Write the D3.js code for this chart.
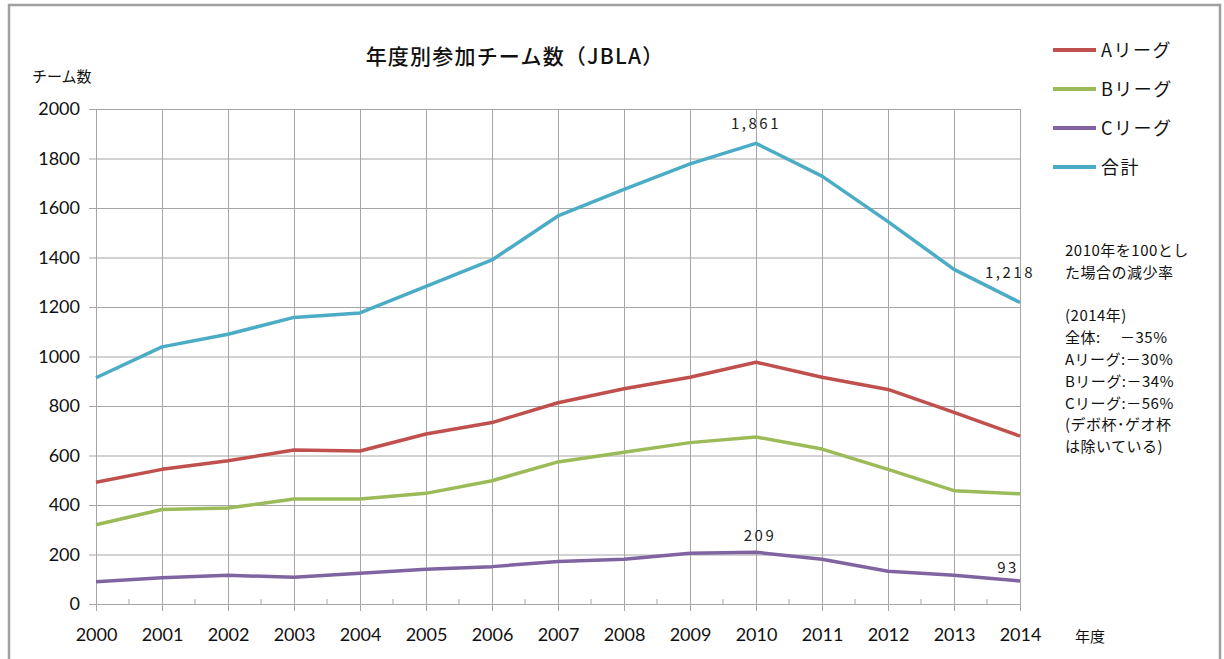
<!DOCTYPE html>
<meta charset="utf-8">
<style>
  body { margin: 0; background: #fff; }
  svg { display: block; }
  .jp { font-family: "Noto Sans CJK JP", sans-serif; fill: #111; }
  .num { font-family: Lato, "Liberation Sans", sans-serif; fill: #111; }
  .grid line { stroke: #a6a6a6; stroke-width: 1; }
</style>
<body>
<svg id="chart" width="1224" height="659"></svg>
<script src="https://d3js.org/d3.v7.min.js"></script>
<script>
const years = d3.range(2000, 2015);
const leagueA = [492, 544, 579, 622, 618, 687, 733, 813, 870, 916, 977, 916, 867, 774, 678];
const leagueB = [320, 382, 388, 424, 424, 447, 498, 574, 613, 652, 675, 626, 544, 458, 445];
const leagueC = [90, 106, 116, 108, 124, 140, 151, 172, 181, 205, 209, 181, 132, 116, 93];
const total = [914, 1039, 1090, 1158, 1176, 1283, 1390, 1568, 1675, 1778, 1861, 1729, 1545, 1352, 1218];
const yTicks = d3.range(0, 2001, 200);
const seriesNames = ["Aリーグ", "Bリーグ", "Cリーグ", "合計"];
const noteLines = ["2010年を100とし", "た場合の減少率", "", "(2014年)", "全体:　 －35%", "Aリーグ:－30%", "Bリーグ:－34%", "Cリーグ:－56%", "(デボ杯･ゲオ杯", "は除いている)"];

const colors = ["#C0504D", "#9BBB59", "#8064A2", "#4BACC6"];
const series = [leagueA, leagueB, leagueC, total];

const svg = d3.select("#chart");

// outer frame
svg.append("rect")
  .attr("x", 9).attr("y", 5).attr("width", 1211).attr("height", 700)
  .attr("fill", "none").attr("stroke", "#a0a0a0").attr("stroke-width", 2.5);

const x = d3.scaleLinear().domain([2000, 2014]).range([96, 1020]);
const y = d3.scaleLinear().domain([0, 2000]).range([604, 109]);

// horizontal grid + y labels
const yAxis = svg.append("g")
  .attr("class", "grid")
  .attr("transform", "translate(1020,0)")
  .call(d3.axisLeft(y).tickValues(yTicks).tickSize(931).tickPadding(9).tickFormat(d3.format("d")));
yAxis.select(".domain").remove();
yAxis.selectAll("text").attr("class", "num").style("font-size", "18px").attr("font-family", null);

// vertical grid + x labels
const xAxis = svg.append("g")
  .attr("class", "grid")
  .attr("transform", "translate(0,109)")
  .call(d3.axisBottom(x).tickValues(years).tickSize(502).tickFormat(d3.format("d")));
xAxis.select(".domain").remove();
xAxis.selectAll("text").attr("class", "num").style("font-size", "18px")
  .attr("y", 532).attr("dy", null).attr("font-family", null);

// minor ticks between years
svg.append("g").attr("class", "grid")
  .selectAll("line")
  .data(years.slice(0, -1).map(d => d + 0.5))
  .join("line")
  .attr("x1", d => x(d)).attr("x2", d => x(d))
  .attr("y1", y(0) - 5).attr("y2", y(0));

// lines
const line = d3.line().x((d, i) => x(years[i])).y(d => y(d));
svg.append("g").selectAll("path")
  .data(series)
  .join("path")
  .attr("d", line)
  .attr("fill", "none")
  .attr("stroke", (d, i) => colors[i])
  .attr("stroke-width", 3.5)
  .attr("stroke-linejoin", "round");

// data labels
const labels = [
  { s: total, i: 10, text: "1,861", dx: 0, dy: -14 },
  { s: total, i: 14, text: "1,218", dx: -10, dy: -25 },
  { s: leagueC, i: 10, text: "209", dx: 4, dy: -11 },
  { s: leagueC, i: 14, text: "93", dx: -12, dy: -8 }
];
svg.append("g").selectAll("text")
  .data(labels)
  .join("text")
  .attr("class", "jp")
  .attr("x", d => x(years[d.i]) + d.dx)
  .attr("y", d => y(d.s[d.i]) + d.dy)
  .attr("text-anchor", "middle")
  .style("font-size", "15px")
  .style("letter-spacing", "2.5px")
  .style("fill", "#222")
  .text(d => d.text);

// titles
svg.append("text").attr("class", "jp")
  .attr("x", 515).attr("y", 64).attr("text-anchor", "middle")
  .style("font-size", "21px").style("font-weight", 500)
  .style("letter-spacing", "1.2px")
  .text("年度別参加チーム数（JBLA）");
svg.append("text").attr("class", "jp")
  .attr("x", 32).attr("y", 82).style("font-size", "15px")
  .text("チーム数");
svg.append("text").attr("class", "jp")
  .attr("x", 1075).attr("y", 642).style("font-size", "15px")
  .text("年度");

// legend
const legend = svg.append("g").selectAll("g")
  .data(seriesNames)
  .join("g")
  .attr("transform", (d, i) => `translate(1053,${50 + i * 39})`);
legend.append("line")
  .attr("x1", 0).attr("x2", 43)
  .attr("stroke", (d, i) => colors[i]).attr("stroke-width", 4);
legend.append("text").attr("class", "jp")
  .attr("x", 48).attr("y", 7)
  .style("font-size", "18px").style("letter-spacing", "1.5px")
  .text(d => d);

// note
svg.append("g").selectAll("text")
  .data(noteLines)
  .join("text")
  .attr("class", "jp")
  .attr("x", 1065)
  .attr("y", (d, i) => 256 + i * 21.8)
  .style("font-size", "15px")
  .style("letter-spacing", "0.5px")
  .text(d => d);
</script>
</body>
